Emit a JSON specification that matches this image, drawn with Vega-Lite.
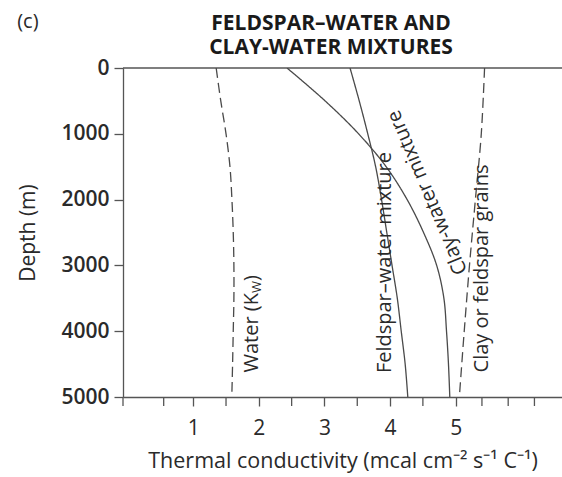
{
  "$schema": "https://vega.github.io/schema/vega-lite/v6.json",
  "width": 439,
  "height": 329,
  "autosize": "none",
  "padding": {"left": 123, "top": 68, "right": 0, "bottom": 80},
  "background": "white",
  "config": {"view": {"stroke": null}, "font": "Open Sans"},
  "datasets": {
    "curves": [
      {"series": "Water", "line": "dashed", "k": 1.35, "depth": 0},
      {"series": "Water", "line": "dashed", "k": 1.42, "depth": 500},
      {"series": "Water", "line": "dashed", "k": 1.50, "depth": 1000},
      {"series": "Water", "line": "dashed", "k": 1.56, "depth": 1500},
      {"series": "Water", "line": "dashed", "k": 1.59, "depth": 2000},
      {"series": "Water", "line": "dashed", "k": 1.61, "depth": 2500},
      {"series": "Water", "line": "dashed", "k": 1.62, "depth": 3000},
      {"series": "Water", "line": "dashed", "k": 1.62, "depth": 3500},
      {"series": "Water", "line": "dashed", "k": 1.61, "depth": 4000},
      {"series": "Water", "line": "dashed", "k": 1.60, "depth": 4500},
      {"series": "Water", "line": "dashed", "k": 1.59, "depth": 4920},
      {"series": "Feldspar-water", "line": "solid", "k": 3.39, "depth": 0},
      {"series": "Feldspar-water", "line": "solid", "k": 3.53, "depth": 500},
      {"series": "Feldspar-water", "line": "solid", "k": 3.66, "depth": 1000},
      {"series": "Feldspar-water", "line": "solid", "k": 3.78, "depth": 1500},
      {"series": "Feldspar-water", "line": "solid", "k": 3.87, "depth": 2000},
      {"series": "Feldspar-water", "line": "solid", "k": 3.95, "depth": 2500},
      {"series": "Feldspar-water", "line": "solid", "k": 4.03, "depth": 3000},
      {"series": "Feldspar-water", "line": "solid", "k": 4.11, "depth": 3500},
      {"series": "Feldspar-water", "line": "solid", "k": 4.17, "depth": 4000},
      {"series": "Feldspar-water", "line": "solid", "k": 4.23, "depth": 4500},
      {"series": "Feldspar-water", "line": "solid", "k": 4.27, "depth": 5000},
      {"series": "Clay-water", "line": "solid", "k": 2.43, "depth": 0},
      {"series": "Clay-water", "line": "solid", "k": 3.01, "depth": 500},
      {"series": "Clay-water", "line": "solid", "k": 3.52, "depth": 1000},
      {"series": "Clay-water", "line": "solid", "k": 3.94, "depth": 1500},
      {"series": "Clay-water", "line": "solid", "k": 4.26, "depth": 2000},
      {"series": "Clay-water", "line": "solid", "k": 4.51, "depth": 2500},
      {"series": "Clay-water", "line": "solid", "k": 4.71, "depth": 3000},
      {"series": "Clay-water", "line": "solid", "k": 4.82, "depth": 3500},
      {"series": "Clay-water", "line": "solid", "k": 4.86, "depth": 4000},
      {"series": "Clay-water", "line": "solid", "k": 4.89, "depth": 4500},
      {"series": "Clay-water", "line": "solid", "k": 4.91, "depth": 5000},
      {"series": "Grains", "line": "dashed", "k": 5.44, "depth": 0},
      {"series": "Grains", "line": "dashed", "k": 5.39, "depth": 1000},
      {"series": "Grains", "line": "dashed", "k": 5.30, "depth": 2000},
      {"series": "Grains", "line": "dashed", "k": 5.21, "depth": 3000},
      {"series": "Grains", "line": "dashed", "k": 5.13, "depth": 4000},
      {"series": "Grains", "line": "dashed", "k": 5.06, "depth": 4940}
    ],
    "minorTicks": [
      {"k": -0.07}, {"k": 0.55}, {"k": 1.5}, {"k": 2.5}, {"k": 3.5}, {"k": 4.5}, {"k": 5.4}, {"k": 5.8}, {"k": 6.2}
    ]
  },
  "layer": [
    {
      "data": {"values": [{"depth": 0}]},
      "mark": {"type": "rule", "color": "#555555", "strokeWidth": 1.3},
      "encoding": {"y": {"field": "depth", "type": "quantitative"}}
    },
    {
      "data": {"name": "minorTicks"},
      "mark": {"type": "rule", "color": "#555555", "strokeWidth": 1.3, "clip": false},
      "encoding": {
        "x": {"field": "k", "type": "quantitative"},
        "y": {"datum": 5000, "type": "quantitative"},
        "y2": {"datum": 5137}
      }
    },
    {
      "data": {"name": "curves"},
      "mark": {"type": "line", "interpolate": "catmull-rom", "strokeWidth": 1.3, "color": "#4a4a4a", "clip": true},
      "encoding": {
        "x": {
          "field": "k",
          "type": "quantitative",
          "scale": {"domain": [-0.07, 6.62], "nice": false, "zero": false},
          "axis": {
            "title": "Thermal conductivity (mcal cm⁻² s⁻¹ C⁻¹)",
            "titleFontSize": 21.5,
            "titleFontWeight": "normal",
            "titleColor": "#2a2a2a",
            "titlePadding": 12,
            "values": [1, 2, 3, 4, 5],
            "format": "d",
            "labelFontSize": 21,
            "labelColor": "#2a2a2a",
            "labelPadding": 11,
            "tickSize": 9,
            "tickColor": "#555555",
            "tickWidth": 1.3,
            "domainColor": "#555555",
            "domainWidth": 1.3,
            "grid": false,
            "labelFlush": false
          }
        },
        "y": {
          "field": "depth",
          "type": "quantitative",
          "scale": {"domain": [0, 5000], "reverse": true, "nice": false},
          "axis": {
            "title": "Depth (m)",
            "titleFontSize": 21,
            "titleFontWeight": "normal",
            "titleColor": "#2a2a2a",
            "titlePadding": 22,
            "values": [0, 1000, 2000, 3000, 4000, 5000],
            "format": "d",
            "labelFontSize": 21,
            "labelFontWeight": 600,
            "labelColor": "#2a2a2a",
            "labelPadding": 5,
            "tickSize": 9,
            "tickColor": "#555555",
            "tickWidth": 1.3,
            "domainColor": "#555555",
            "domainWidth": 1.3,
            "grid": false,
            "labelFlush": false
          }
        },
        "detail": {"field": "series"},
        "order": {"field": "depth", "type": "quantitative"},
        "strokeDash": {
          "field": "line",
          "type": "nominal",
          "scale": {"domain": ["solid", "dashed"], "range": [[1, 0], [10, 5]]},
          "legend": null
        }
      }
    },
    {
      "data": {"values": [{"text": "Feldspar–water mixture", "k": 3.92, "depth": 2957}, {"text": "Clay or feldspar grains", "k": 5.40, "depth": 3047}]},
      "mark": {"type": "text", "angle": 270, "align": "center", "baseline": "middle", "fontSize": 20, "color": "#2a2a2a"},
      "encoding": {
        "x": {"field": "k", "type": "quantitative"},
        "y": {"field": "depth", "type": "quantitative"},
        "text": {"field": "text"}
      }
    },
    {
      "data": {"values": [{"text": "Clay-water mixture", "k": 4.57, "depth": 1892}]},
      "mark": {"type": "text", "angle": 247, "align": "center", "baseline": "middle", "fontSize": 20, "color": "#2a2a2a"},
      "encoding": {
        "x": {"field": "k", "type": "quantitative"},
        "y": {"field": "depth", "type": "quantitative"},
        "text": {"field": "text"}
      }
    },
    {
      "data": {"values": [{"text": "Water (K", "k": 1.89, "depth": 3420}]},
      "mark": {"type": "text", "angle": 270, "align": "right", "baseline": "middle", "fontSize": 20, "color": "#2a2a2a"},
      "encoding": {
        "x": {"field": "k", "type": "quantitative"},
        "y": {"field": "depth", "type": "quantitative"},
        "text": {"field": "text"}
      }
    },
    {
      "data": {"values": [{"text": "W", "k": 1.89, "depth": 3420}]},
      "mark": {"type": "text", "angle": 270, "align": "left", "baseline": "middle", "fontSize": 13, "dy": 5, "color": "#2a2a2a"},
      "encoding": {
        "x": {"field": "k", "type": "quantitative"},
        "y": {"field": "depth", "type": "quantitative"},
        "text": {"field": "text"}
      }
    },
    {
      "data": {"values": [{"text": ")", "k": 1.89, "depth": 3420}]},
      "mark": {"type": "text", "angle": 270, "align": "left", "baseline": "middle", "fontSize": 20, "dx": 12, "color": "#2a2a2a"},
      "encoding": {
        "x": {"field": "k", "type": "quantitative"},
        "y": {"field": "depth", "type": "quantitative"},
        "text": {"field": "text"}
      }
    },
    {
      "data": {"values": [{"text": "(c)", "k": -1.52, "depth": -700}]},
      "mark": {"type": "text", "align": "center", "baseline": "middle", "fontSize": 20, "color": "#2a2a2a", "clip": false},
      "encoding": {
        "x": {"field": "k", "type": "quantitative"},
        "y": {"field": "depth", "type": "quantitative"},
        "text": {"field": "text"}
      }
    },
    {
      "data": {"values": [{"text": "FELDSPAR–WATER AND\nCLAY-WATER MIXTURES", "k": 3.10, "depth": -578}]},
      "mark": {"type": "text", "align": "center", "baseline": "alphabetic", "lineBreak": "\n", "lineHeight": 24, "fontSize": 21, "fontWeight": "bold", "color": "#1a1a1a", "clip": false},
      "encoding": {
        "x": {"field": "k", "type": "quantitative"},
        "y": {"field": "depth", "type": "quantitative"},
        "text": {"field": "text"}
      }
    }
  ]
}
